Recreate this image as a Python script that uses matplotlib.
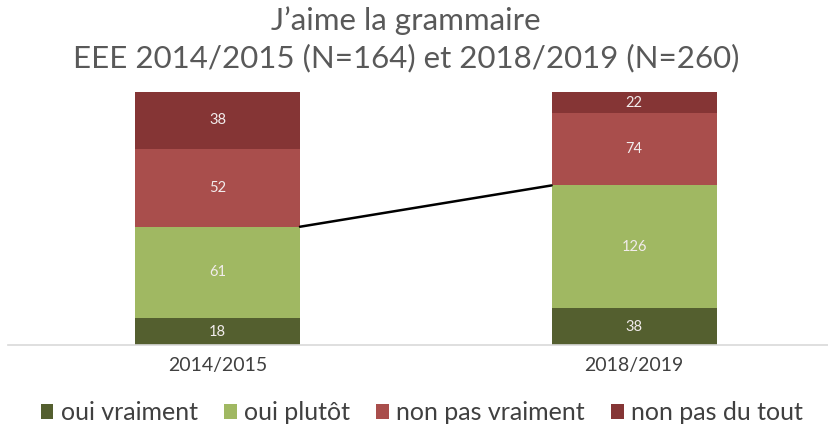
import numpy as np
import matplotlib
matplotlib.use("Agg")
from matplotlib import pyplot as plt
from matplotlib.patches import Patch

plt.rcParams['font.family'] = ['Lato', 'DejaVu Sans']

years = ["2014/2015", "2018/2019"]
series = ["oui vraiment", "oui plutôt", "non pas vraiment", "non pas du tout"]
oui_vraiment = [18, 38]
oui_plutot = [61, 126]
non_pas_vraiment = [52, 74]
non_pas_du_tout = [38, 22]

colors = ['#545f2f', '#a0b862', '#a94e4c', '#853535']

counts = np.array([oui_vraiment, oui_plutot, non_pas_vraiment, non_pas_du_tout], dtype=float)
totals = counts.sum(axis=0)
shares = counts / totals

fig = plt.figure(figsize=(8.29, 4.30), dpi=100)
ax = fig.add_axes([8/829, 85/430, 821/829, 253/430])

x = np.arange(len(years))
width = 0.396
bottom = np.zeros(len(years))
for i in range(len(series)):
    ax.bar(x, shares[i], width, bottom=bottom, color=colors[i], linewidth=0)
    for j in range(len(years)):
        ax.text(x[j], bottom[j] + shares[i][j] / 2, "%d" % counts[i][j],
                ha='center', va='center', color='#f2ecec', fontsize=10.5)
    bottom += shares[i]

# series line between the tops of "oui plutôt"
top_plutot = shares[0] + shares[1]
ax.plot([x[0] + width / 2, x[1] - width / 2], top_plutot, color='black', lw=1.8,
        solid_capstyle='round')

ax.set_xlim(-0.503, 1.468)
ax.set_ylim(0, 1)
ax.set_yticks([])
ax.set_xticks(x)
ax.set_xticklabels(years, fontsize=14, color='#404040')
ax.tick_params(axis='x', length=0, pad=9)
for s in ['top', 'right', 'left']:
    ax.spines[s].set_visible(False)
ax.spines['bottom'].set_color('#d9d9d9')
ax.spines['bottom'].set_linewidth(1.2)

fig.text(0.49, 0.951, "J\u2019aime la grammaire", ha='center', va='center',
         fontsize=22.5, color='#595959')
fig.text(0.49, 0.866, "EEE 2014/2015 (N=164) et 2018/2019 (N=260)", ha='center', va='center',
         fontsize=22.5, color='#595959')

handles = [Patch(facecolor=c, edgecolor='none') for c in colors]
fig.legend(handles, series, loc='center', bbox_to_anchor=(0.509, 0.04), ncol=4,
           frameon=False, fontsize=18, labelcolor='#404040',
           handlelength=0.5, handleheight=0.55, handletextpad=0.3, columnspacing=1.05)

fig.savefig("out.png", dpi=100)
